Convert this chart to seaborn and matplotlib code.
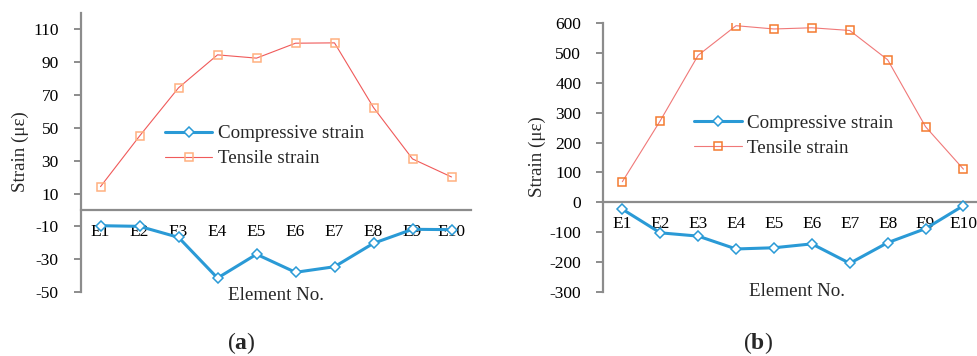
import matplotlib
matplotlib.use("Agg")
import matplotlib.pyplot as plt
import seaborn as sns
import pandas as pd

elements = ["E1", "E2", "E3", "E4", "E5", "E6", "E7", "E8", "E9", "E10"]

# Panel (a)
tensile_a = [14.2, 45, 74.4, 94.5, 92.5, 101.6, 101.8, 62.4, 31.1, 20.1]
compress_a = [-9.6, -10, -16.7, -41.5, -27, -38, -34.6, -20.3, -11.8, -12]
yticks_a = [-50, -30, -10, 10, 30, 50, 70, 90, 110]

# Panel (b)
tensile_b = [69, 273, 492, 591, 580, 584, 575, 477, 253, 111]
compress_b = [-23, -102, -113, -156, -152, -139, -204, -135, -88, -11]
yticks_b = [-300, -200, -100, 0, 100, 200, 300, 400, 500, 600]

sns.set_theme(style="white")
plt.rcParams["font.family"] = ["Liberation Serif", "DejaVu Serif"]
plt.rcParams["mathtext.fontset"] = "custom"
plt.rcParams["mathtext.rm"] = "Liberation Serif"
plt.rcParams["mathtext.bf"] = "Liberation Serif:bold"
plt.rcParams["axes.unicode_minus"] = False

W, H = 977, 356
fig = plt.figure(figsize=(W / 100, H / 100), dpi=100)

BLUE = "#2A9AD6"
GRAY = "#8C8C8C"


def fx(px):
    return px / W


def fy(py):
    return 1 - py / H


def panel(rect, tens, comp, yticks, ylim, tcol_line, tcol_mark, leg_anchor):
    ax = fig.add_axes(rect)
    df = pd.DataFrame({"Element": elements, "Tensile": tens, "Compressive": comp})
    sns.lineplot(data=df, x="Element", y="Compressive", ax=ax, color=BLUE,
                 linewidth=2.2, marker="D", markersize=5, markerfacecolor="white",
                 markeredgecolor=BLUE, markeredgewidth=1.1,
                 label="Compressive strain", sort=False)
    sns.lineplot(data=df, x="Element", y="Tensile", ax=ax, color=tcol_line,
                 linewidth=0.8, marker="s", markersize=6, markerfacecolor="none",
                 markeredgecolor=tcol_mark, markeredgewidth=1.1,
                 label="Tensile strain", sort=False)
    ax.set_xlim(-0.5, 9.5)
    ax.set_ylim(*ylim)
    ax.set_yticks(yticks)
    ax.set_xlabel("")
    ax.set_ylabel("")
    for s in ["top", "right"]:
        ax.spines[s].set_visible(False)
    ax.spines["left"].set_color(GRAY)
    ax.spines["left"].set_linewidth(1.6)
    ax.spines["bottom"].set_position(("data", 0))
    ax.spines["bottom"].set_color(GRAY)
    ax.spines["bottom"].set_linewidth(1.6)
    ax.spines["bottom"].set_zorder(0)
    ax.tick_params(axis="y", left=True, length=5, width=1.4, color=GRAY,
                   labelsize=12.5, pad=11, labelcolor="black")
    ax.tick_params(axis="x", bottom=False, length=0, labelsize=12.5, pad=10,
                   labelcolor="black")
    ax.grid(False)
    ax.set_facecolor("none")
    ax.legend(loc="upper left", bbox_to_anchor=leg_anchor, frameon=False,
              fontsize=13.7, borderpad=0, borderaxespad=0,
              handlelength=2.5, handletextpad=0.3, labelspacing=0.4)
    return ax


axa = panel([fx(81), fy(292), fx(390), fy(13) - fy(292)], tensile_a, compress_a,
            yticks_a, (-50, 120), "#F05A5A", "#FFB080", (0.215, 0.598))
axb = panel([fx(603.4), fy(292), fx(379), fy(23) - fy(292)], tensile_b, compress_b,
            yticks_b, (-300, 600), "#F07878", "#F47A30", (0.239, 0.66))

# axis titles
fig.text(fx(276), fy(295), "Element No.", ha="center", va="center", fontsize=13.7)
fig.text(fx(797), fy(292), "Element No.", ha="center", va="center", fontsize=13.7)
fig.text(fx(20), fy(152), "Strain (με)", ha="center", va="center", rotation=90,
         fontsize=13.7)
fig.text(fx(537), fy(157), "Strain (με)", ha="center", va="center", rotation=90,
         fontsize=13.7)

# captions
fig.text(fx(241), fy(343), r"($\mathbf{a}$)", ha="center", va="center", fontsize=17)
fig.text(fx(758), fy(343), r"($\mathbf{b}$)", ha="center", va="center", fontsize=17)

fig.savefig("out.png", dpi=100)
